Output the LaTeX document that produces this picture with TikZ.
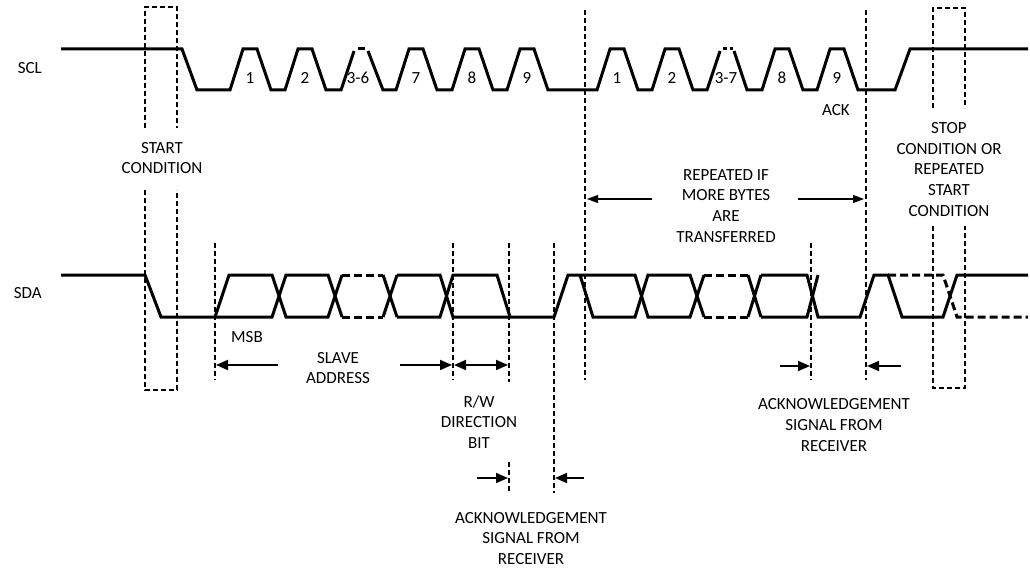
\documentclass[tikz,border=0pt]{standalone}
\usepackage{fontspec}
\setmainfont{Carlito}
\usetikzlibrary{arrows.meta}
\begin{document}
\begin{tikzpicture}[x=1pt,y=-1pt]
\tikzset{
 sig/.style={line width=3pt},
 sigdash/.style={line width=3pt, dash pattern=on 8pt off 4pt},
 guide/.style={line width=1.2pt, dash pattern=on 5pt off 3pt},
 boxline/.style={line width=1.6pt, dash pattern=on 5pt off 3pt},
 lbl/.style={font=\fontsize{17}{20.8}\selectfont, inner sep=0pt, align=center},
 dimarrow/.style={line width=1.8pt, -{Triangle[length=12pt,width=10pt]}},
 reparrow/.style={line width=1.1pt, -{Triangle[length=11pt,width=8pt]}},
 dimboth/.style={line width=1.8pt, {Triangle[length=12pt,width=10pt]}-{Triangle[length=12pt,width=10pt]}},
}
\useasboundingbox (0,0) rectangle (1030,569);

% ---------- signal names ----------
\node[lbl, anchor=east] (scl) at (42,68) {SCL};
\node[lbl, anchor=east] (sda) at (42,293) {SDA};

% ---------- SCL waveform ----------
\draw[sig] (61,49) -- (182,49) -- (197,90) -- (230,90)
 -- (243,49) -- (257,49) -- (271,90) -- (285,90)
 -- (298,49) -- (312,49) -- (326,90) -- (341,90)
 -- (354,51);
\draw[sig] (358,49) -- (365,49);
\draw[sig] (368,51) -- (383,90) -- (396,90)
 -- (409,49) -- (423,49) -- (437,90) -- (452,90)
 -- (465,49) -- (479,49) -- (493,90) -- (507,90)
 -- (520,49) -- (534,49) -- (548,90) -- (597,90)
 -- (610,49) -- (624,49) -- (638,90) -- (652,90)
 -- (665,49) -- (679,49) -- (693,90) -- (707,90)
 -- (720,51);
\draw[sig] (723,49) -- (727,49) (730,49) -- (733,49);
\draw[sig] (734,51) -- (747,90) -- (762,90)
 -- (775,49) -- (789,49) -- (803,90) -- (817,90)
 -- (830,49) -- (844,49) -- (858,90) -- (895,90)
 -- (910,49) -- (1028,49);

% clock labels
\node[lbl] (c1) at (250,78) {1};
\node[lbl] (c2) at (305,78) {2};
\node[lbl] (c36) at (358,78) {3-6};
\node[lbl] (c7) at (416,78) {7};
\node[lbl] (c8) at (472,78) {8};
\node[lbl] (c9) at (527,78) {9};
\node[lbl] (d1) at (617,78) {1};
\node[lbl] (d2) at (672,78) {2};
\node[lbl] (d37) at (726,78) {3-7};
\node[lbl] (d8) at (782,78) {8};
\node[lbl] (d9) at (837,78) {9};
\node[lbl] (ack) at (836,110) {ACK};

% ---------- SDA waveform ----------
\draw[sig] (61,275) -- (145,275) -- (161,317) -- (272,317) -- (286,275) -- (328,275) -- (342,317);
\draw[sig] (215,317) -- (229,275) -- (272,275) -- (286,317) -- (328,317) -- (342,275);
\draw[sigdash] (342,275) -- (383,275) (342,317) -- (383,317);
\draw[sig] (383,275) -- (397,317) (383,317) -- (397,275);
\draw[sig] (397,275) -- (440,275) -- (453,317) -- (554,317) -- (568,275) -- (635,275) -- (648,317) -- (690,317) -- (704,275);
\draw[sig] (397,317) -- (440,317) -- (453,275) -- (497,275) -- (510,317);
\draw[sig] (580,275) -- (593,317) -- (635,317) -- (648,275) -- (690,275) -- (704,317);
\draw[sigdash] (704,275) -- (748,275) (704,317) -- (748,317);
\draw[sig] (748,275) -- (761,317) (748,317) -- (761,275);
\draw[sig] (761,275) -- (807,275) -- (818,317) -- (860,317) -- (874,275) -- (888,275) -- (902,317) -- (943,317) -- (957,275) -- (1028,275);
\draw[sig] (761,317) -- (807,317) -- (818,275);
\draw[sigdash] (888,275) -- (943,275) -- (957,317) -- (1028,317);

% ---------- start / stop boxes ----------
\draw[boxline] (145,128) -- (145,7) -- (177,7) -- (177,128);
\draw[boxline] (145,190) -- (145,390) -- (177,390) -- (177,190);
\draw[boxline] (933,108) -- (933,8) -- (965,8) -- (965,108);
\draw[boxline] (933,226) -- (933,388) -- (965,388) -- (965,226);
\node[lbl] (start) at (162,158) {START\\CONDITION};
\node[lbl] (stop) at (949,169.5) {STOP\\CONDITION OR\\REPEATED\\START\\CONDITION};

% ---------- guide lines ----------
\coordinate (gMt) at (215,243);  \coordinate (gMb) at (215,380);
\coordinate (gSt) at (453,243);  \coordinate (gSb) at (453,380);
\coordinate (gRt) at (509,243);  \coordinate (gRb) at (509,382);
\coordinate (gRlt) at (509,462); \coordinate (gRlb) at (509,493);
\coordinate (gAt) at (554,243);  \coordinate (gAb) at (554,493);
\coordinate (gPt) at (585,10);   \coordinate (gPb) at (585,380);
\coordinate (gKt) at (811,243);  \coordinate (gKb) at (811,380);
\coordinate (gQt) at (866,10);   \coordinate (gQb) at (866,380);
\draw[guide] (gMt) -- (gMb);
\draw[guide] (gSt) -- (gSb);
\draw[guide] (gRt) -- (gRb);
\draw[guide] (gRlt) -- (gRlb);
\draw[guide] (gAt) -- (gAb);
\draw[guide] (gPt) -- (gPb);
\draw[guide] (gKt) -- (gKb);
\draw[guide] (gQt) -- (gQb);

% ---------- dimension arrows ----------
\coordinate (saL0) at (278,365); \coordinate (saL1) at (216,365);
\coordinate (saR0) at (400,365); \coordinate (saR1) at (452,365);
\coordinate (rw0) at (454,365);  \coordinate (rw1) at (508,365);
\coordinate (a1L0) at (477,478); \coordinate (a1L1) at (508,478);
\coordinate (a1R0) at (584,478); \coordinate (a1R1) at (555,478);
\coordinate (a2L0) at (780,366); \coordinate (a2L1) at (810,366);
\coordinate (a2R0) at (901,366); \coordinate (a2R1) at (867,366);
\coordinate (rpL0) at (652,199); \coordinate (rpL1) at (587,199);
\coordinate (rpR0) at (798,199); \coordinate (rpR1) at (864,199);
\draw[dimarrow] (saL0) -- (saL1);
\draw[dimarrow] (saR0) -- (saR1);
\draw[dimboth] (rw0) -- (rw1);
\draw[dimarrow] (a1L0) -- (a1L1);
\draw[dimarrow] (a1R0) -- (a1R1);
\draw[dimarrow] (a2L0) -- (a2L1);
\draw[dimarrow] (a2R0) -- (a2R1);
\draw[reparrow] (rpL0) -- (rpL1);
\draw[reparrow] (rpR0) -- (rpR1);

% ---------- annotations ----------
\node[lbl] (msb) at (247,337) {MSB};
\node[lbl] (slave) at (338,368) {SLAVE\\ADDRESS};
\node[lbl] (rwtext) at (479,422) {R/W\\DIRECTION\\BIT};
\node[lbl] (ack1) at (531,538.5) {ACKNOWLEDGEMENT\\SIGNAL FROM\\RECEIVER};
\node[lbl] (ack2) at (834,425) {ACKNOWLEDGEMENT\\SIGNAL FROM\\RECEIVER};
\node[lbl] (rep) at (726,206) {REPEATED IF\\MORE BYTES\\ARE\\TRANSFERRED};
\end{tikzpicture}
\end{document}
